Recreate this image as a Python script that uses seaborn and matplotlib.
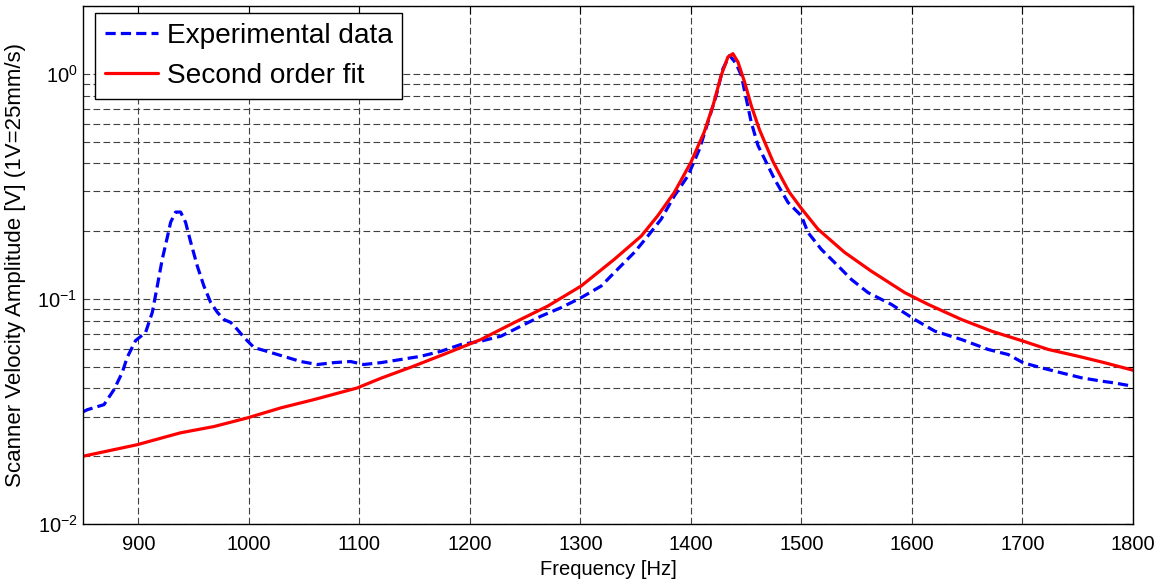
import numpy as np
import seaborn as sns
import matplotlib.pyplot as plt
import pandas as pd
from matplotlib.ticker import LogLocator, FixedLocator

exp_freq = [850, 854, 869, 878, 885.5, 890, 897.6, 906.6, 912.7, 917.2, 921.7,
            926.3, 929.3, 933.8, 938.3, 942.8, 947.4, 953.4, 959.4, 965.5, 971.6,
            977.5, 983.6, 989.7, 995.7, 1004.7, 1016.8, 1035, 1047, 1062, 1077,
            1092, 1104, 1119.5, 1137.6, 1155.7, 1173.8, 1191.9, 1210, 1228.2,
            1246.3, 1264.4, 1282.5, 1300.6, 1318.8, 1330.8, 1348.9, 1361, 1373.1,
            1385.1, 1397.3, 1407.8, 1415.4, 1422.9, 1429, 1435, 1441, 1445.6,
            1450.1, 1454.6, 1460.7, 1468.2, 1475.7, 1487.9, 1499.9, 1506, 1518,
            1533.2, 1545.2, 1560.3, 1581.4, 1602.5, 1620.7, 1644.8, 1669, 1687.1,
            1700.7, 1717.3, 1735.4, 1753.5, 1771.7, 1783.7, 1800]
exp_amp = [0.0315, 0.0322, 0.0339, 0.0395, 0.0471, 0.055, 0.0653, 0.0709, 0.0871,
           0.114, 0.150, 0.188, 0.219, 0.243, 0.243, 0.219, 0.179, 0.140, 0.114,
           0.0964, 0.0871, 0.0810, 0.0786, 0.0731, 0.0674, 0.0608, 0.0584, 0.0549,
           0.0527, 0.0511, 0.0521, 0.0527, 0.0511, 0.0521, 0.0538, 0.0556, 0.0585,
           0.0627, 0.0649, 0.0683, 0.0757, 0.0838, 0.0914, 0.1012, 0.114, 0.131,
           0.161, 0.190, 0.226, 0.287, 0.352, 0.463, 0.609, 0.800, 1.053, 1.206,
           1.108, 0.983, 0.774, 0.609, 0.480, 0.404, 0.34, 0.268, 0.234, 0.197,
           0.166, 0.140, 0.122, 0.1066, 0.0945, 0.0810, 0.0719, 0.0660, 0.0596,
           0.0566, 0.0520, 0.0494, 0.0469, 0.0446, 0.0431, 0.0423, 0.0409]

# second order fit
fit_freq = [850, 899, 938, 968.5, 998.7, 1029, 1059, 1098, 1120, 1148, 1180, 1210,
            1240, 1270.5, 1300.6, 1330.8, 1355, 1370, 1385, 1400, 1412, 1420,
            1427.4, 1433.5, 1438, 1442.6, 1448.6, 1454.6, 1462, 1474, 1482, 1489,
            1500, 1515, 1539, 1563, 1593.5, 1614.7, 1644.8, 1672, 1700.7, 1723.4,
            1750.5, 1774.6, 1800]
fit_amp = [0.0200, 0.0225, 0.0254, 0.0271, 0.0296, 0.0328, 0.0357, 0.0402, 0.0445,
           0.050, 0.0576, 0.0660, 0.0784, 0.0929, 0.114, 0.150, 0.190, 0.234, 0.297,
           0.404, 0.550, 0.722, 0.983, 1.187, 1.228, 1.127, 0.918, 0.722, 0.565,
           0.41, 0.345, 0.298, 0.252, 0.204, 0.161, 0.133, 0.1066, 0.0945, 0.0810,
           0.0719, 0.0649, 0.0596, 0.0556, 0.0520, 0.0482]

xticks = [900, 1000, 1100, 1200, 1300, 1400, 1500, 1600, 1700, 1800]

exp_df = pd.DataFrame({"freq": exp_freq, "amp": exp_amp})
fit_df = pd.DataFrame({"freq": fit_freq, "amp": fit_amp})

sns.set_style("white")
plt.rcParams['font.family'] = ['Liberation Sans', 'DejaVu Sans']
plt.rcParams['mathtext.fontset'] = 'custom'
plt.rcParams['mathtext.rm'] = 'Liberation Sans'
for k in ['text.color', 'axes.labelcolor', 'xtick.color', 'ytick.color']:
    plt.rcParams[k] = 'k'

fig = plt.figure(figsize=(11.67, 5.83), dpi=100)
ax = fig.add_axes([83 / 1167, 59 / 583, 1050 / 1167, 518 / 583])

sns.lineplot(data=exp_df, x="freq", y="amp", ax=ax, color=(0, 0, 1), lw=2.3,
             linestyle=(0, (3.2, 1.6)), label="Experimental data", sort=False)
sns.lineplot(data=fit_df, x="freq", y="amp", ax=ax, color=(1, 0, 0), lw=2.3,
             label="Second order fit", sort=False)

ax.set_yscale("log")
ax.set_xlim(850, 1800)
ax.set_ylim(0.01, 2)
ax.xaxis.set_major_locator(FixedLocator(xticks))
ax.set_xticklabels([str(t) for t in xticks])
ax.yaxis.set_major_locator(LogLocator(base=10, numticks=10))
ax.yaxis.set_minor_locator(LogLocator(base=10, subs=np.arange(2, 10), numticks=20))

gridstyle = dict(color="0.25", lw=0.8, linestyle=(0, (6, 3)))
ax.grid(True, which="major", axis="both", **gridstyle)
ax.grid(True, which="minor", axis="y", **gridstyle)

ax.tick_params(which="both", direction="in", top=True, right=True, colors="k",
               labelsize=14.5)
ax.tick_params(which="major", length=6, width=0.8)
ax.tick_params(which="minor", length=3.5, width=0.8)
ax.tick_params(axis="x", pad=8)
ax.tick_params(axis="y", pad=4)
for s in ax.spines.values():
    s.set_color("k")
    s.set_linewidth(1.0)

ax.set_xlabel("Frequency [Hz]", fontsize=14.5, labelpad=4)
ax.set_ylabel("Scanner Velocity Amplitude [V] (1V=25mm/s)", fontsize=16, labelpad=8)

leg = ax.legend(loc="upper left", bbox_to_anchor=(0.0114, 0.9865), borderaxespad=0,
                fontsize=20.2, fancybox=False, edgecolor="k", framealpha=1,
                handlelength=1.9, handletextpad=0.3, labelspacing=0.5,
                borderpad=0.35)
leg.get_frame().set_linewidth(1.0)

fig.savefig("out.png", dpi=100)
